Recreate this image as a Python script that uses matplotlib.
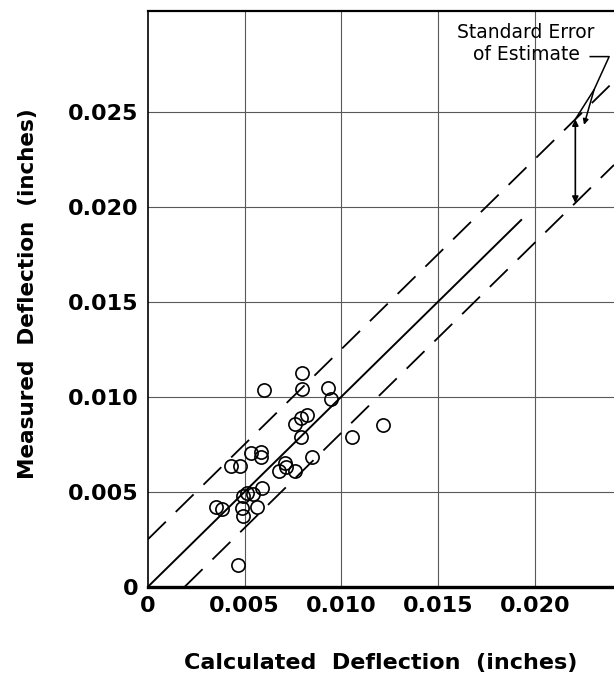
import numpy as np
import matplotlib
matplotlib.use("Agg")
import matplotlib.pyplot as plt

# calculated vs measured deflection (inches)
calc = [0.00794, 0.00600, 0.00794, 0.00932, 0.00945, 0.00821, 0.00789, 0.00758,
        0.00792, 0.01216, 0.01055, 0.00846, 0.00586, 0.00584, 0.00532, 0.00427,
        0.00477, 0.00709, 0.00712, 0.00680, 0.00761, 0.00592, 0.00541, 0.00493,
        0.00510, 0.00354, 0.00384, 0.00486, 0.00491, 0.00563, 0.00464]
meas = [0.01127, 0.01037, 0.01040, 0.01044, 0.00990, 0.00904, 0.00888, 0.00856,
        0.00787, 0.00851, 0.00787, 0.00685, 0.00707, 0.00681, 0.00705, 0.00637,
        0.00637, 0.00649, 0.00630, 0.00609, 0.00609, 0.00518, 0.00490, 0.00475,
        0.00495, 0.00422, 0.00409, 0.00413, 0.00370, 0.00418, 0.00115]

# line of equality and the standard error band
equal_line = [0.0, 0.0193]
se_upper = 0.0025
se_lower = 0.0019
arrow_x = 0.0221

xticks = [0, 0.005, 0.010, 0.015, 0.020]
xtick_labels = ["0", "0.005", "0.010", "0.015", "0.020"]
yticks = [0, 0.005, 0.010, 0.015, 0.020, 0.025]
ytick_labels = ["0", "0.005", "0.010", "0.015", "0.020", "0.025"]

W, H = 614, 678
xmax, ymax = 0.0241, 0.0303

plt.rcParams['font.family'] = ['DejaVu Sans']
plt.rcParams['lines.scale_dashes'] = False

fig = plt.figure(figsize=(W / 100, H / 100), dpi=100)
ax = fig.add_axes([148 / W, (H - 586.7) / H, (W - 148) / W, (586.7 - 11) / H])

ax.set_xlim(0, xmax)
ax.set_ylim(0, ymax)

# grid at every tick
for t in xticks[1:]:
    ax.axvline(t, color='0.35', lw=0.8, zorder=1)
for t in yticks[1:]:
    ax.axhline(t, color='0.35', lw=0.8, zorder=1)

# 1:1 line
ax.plot(equal_line, equal_line, color='k', lw=1.4, zorder=2)

# standard error lines
xx = np.array([0, xmax])
ax.plot(xx, xx + se_upper, color='k', lw=1.3, dashes=(18, 10), zorder=2)
xl = np.array([se_lower, xmax])
ax.plot(xl, xl - se_lower, color='k', lw=1.3, dashes=(18, 10), zorder=2)

# data points
ax.plot(calc, meas, linestyle='none', marker='o', ms=9.5, mfc='none',
        mec='k', mew=1.2, zorder=3)

# double arrow between the band lines
ax.annotate('', xy=(arrow_x, arrow_x + se_upper), xytext=(arrow_x, arrow_x - se_lower),
            arrowprops=dict(arrowstyle='<|-|>', color='k', lw=1.2,
                            mutation_scale=9, shrinkA=0, shrinkB=0), zorder=4)

# label with leader lines
ax.text(0.01955, 0.0286, "Standard Error\nof Estimate", ha='center', va='center',
        fontsize=13.5, linespacing=1.2)
ax.plot([0.02287, 0.02385, 0.02307, arrow_x], [0.0279, 0.0279, 0.02616, arrow_x + se_upper],
        color='k', lw=1.1, zorder=4)
ax.annotate('', xy=(0.02255, 0.02431), xytext=(0.02307, 0.02616),
            arrowprops=dict(arrowstyle='-|>', color='k', lw=1.1,
                            mutation_scale=8, shrinkA=0, shrinkB=0), zorder=4)

ax.set_xticks(xticks)
ax.set_xticklabels(xtick_labels)
ax.set_yticks(yticks)
ax.set_yticklabels(ytick_labels)
ax.tick_params(length=0, labelsize=16, pad=7)
for lab in ax.get_xticklabels() + ax.get_yticklabels():
    lab.set_fontweight('bold')

ax.spines['right'].set_visible(False)
ax.spines['left'].set_linewidth(1.2)
ax.spines['top'].set_linewidth(1.6)
ax.spines['bottom'].set_linewidth(2.4)

fig.text(28 / W, 1 - 294 / H, "Measured  Deflection  (inches)", rotation=90,
         ha='center', va='center', fontsize=15.5, fontweight='bold')
fig.text(381 / W, 1 - 663 / H, "Calculated  Deflection  (inches)",
         ha='center', va='center', fontsize=16, fontweight='bold')

fig.savefig("out.png", dpi=100)
